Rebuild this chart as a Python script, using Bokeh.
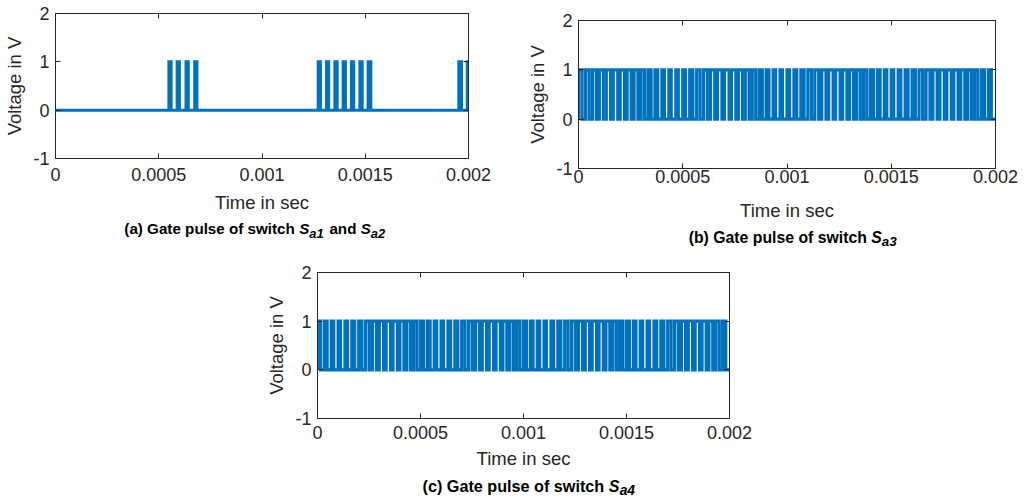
from bokeh.plotting import figure
from bokeh.models import LinearAxis, FixedTicker, Range1d, Spacer
from bokeh.core.properties import value
from bokeh.layouts import column, row
from bokeh.embed import file_html
from bokeh.resources import INLINE

# ---------------- data ----------------
x_ticks = [0, 0.0005, 0.001, 0.0015, 0.002]
x_tick_labels = ["0", "0.0005", "0.001", "0.0015", "0.002"]
y_ticks = [-1, 0, 1, 2]
y_tick_labels = ["-1", "0", "1", "2"]
t_end = 0.002

# (a) gate pulses of Sa1 / Sa2 : switch-on and switch-off instants (s)
sa12_on = [0.000549, 0.000589, 0.000632, 0.000674,
           0.001272, 0.001312, 0.001353, 0.001393, 0.001433, 0.001474, 0.001514,
           0.001953, 0.001994]
sa12_off = [0.000560, 0.000600, 0.000643, 0.000685,
            0.001283, 0.001323, 0.001364, 0.001404, 0.001444, 0.001485, 0.001527,
            0.001966, 0.002000]

# (b) Sa3 and (c) Sa4 : duty ratio of each carrier period over 0..2 ms
sa3_duty = [0.50, 0.52, 0.55, 0.58, 0.62, 0.65, 0.62, 0.58, 0.55, 0.50,
            0.45, 0.40, 0.36, 0.34, 0.36, 0.40, 0.45, 0.50, 0.55, 0.60,
            0.64, 0.66, 0.64, 0.60, 0.55, 0.50, 0.45, 0.40, 0.36, 0.35,
            0.37, 0.41, 0.46, 0.51, 0.56, 0.61, 0.64, 0.65, 0.62, 0.58,
            0.53, 0.48, 0.43, 0.39, 0.36, 0.35, 0.38, 0.42, 0.47, 0.52,
            0.57, 0.61, 0.64, 0.65, 0.62, 0.58, 0.53, 0.48, 0.44, 0.40]
sa4_duty = [0.45, 0.40, 0.37, 0.35, 0.38, 0.42, 0.47, 0.53, 0.58, 0.62,
            0.65, 0.63, 0.59, 0.54, 0.49, 0.44, 0.40, 0.36, 0.35, 0.38,
            0.43, 0.48, 0.53, 0.58, 0.62, 0.64, 0.63, 0.58, 0.53, 0.48,
            0.43, 0.39, 0.36, 0.35, 0.39, 0.44, 0.49, 0.54, 0.59, 0.63,
            0.65, 0.62, 0.57, 0.52, 0.47, 0.42, 0.38, 0.35, 0.36, 0.40,
            0.45, 0.50, 0.55, 0.60, 0.63, 0.64, 0.61, 0.56, 0.51, 0.46]

captions = {
    "a": [("(a) Gate pulse of switch ", "n"), ("S", "i"), ("a1", "s"), (" and ", "n"), ("S", "i"), ("a2", "s")],
    "b": [("(b) Gate pulse of switch ", "n"), ("S", "i"), ("a3", "s")],
    "c": [("(c) Gate pulse of switch ", "n"), ("S", "i"), ("a4", "s")],
}

# ---------------- styling ----------------
BLUE = "#0072BD"
DARK = "#262626"
FONT = "Liberation Sans"
TICK_FS = "18px"
LABEL_FS = "18.5px"
SUB_RATIO = 0.85

# Arial-bold advance widths (per em) for caption layout
W = {" ": .278, "(": .333, ")": .333, "a": .556, "b": .611, "c": .556, "d": .611, "e": .556,
     "f": .333, "G": .778, "h": .611, "i": .278, "l": .278, "n": .611, "o": .611, "p": .611,
     "s": .556, "S": .667, "t": .333, "u": .611, "w": .778}
for dch in "0123456789":
    W[dch] = .556


def text_width(s, fs):
    return sum(W.get(ch, .6) for ch in s) * fs


def pulses_to_xy(on, off):
    xs, ys = [0.0], [0.0]
    for a, b in zip(on, off):
        xs += [a, a, b, b]
        ys += [0, 1, 1, 0]
    if xs[-1] < t_end:
        xs.append(t_end)
        ys.append(0)
    return xs, ys


def duty_to_xy(duty):
    n = len(duty)
    T = t_end / n
    on = [k * T for k in range(n)]
    off = [k * T + d * T for k, d in enumerate(duty)]
    return pulses_to_xy(on, off)


def make_fig(w, h, bl, br, bt, bb, xs, ys, lw, tick_so, label_so):
    p = figure(width=w, height=h, output_backend="svg", toolbar_location=None,
               x_range=Range1d(0, t_end), y_range=Range1d(-1, 2),
               min_border_left=bl, min_border_right=br, min_border_top=bt, min_border_bottom=bb,
               background_fill_color="white", border_fill_color="white")
    p.grid.visible = False
    p.outline_line_color = DARK
    p.outline_line_width = 1
    p.line(xs, ys, line_color=BLUE, line_width=lw, line_join="miter")

    for ax, ticks, labels in ((p.xaxis[0], x_ticks, x_tick_labels), (p.yaxis[0], y_ticks, y_tick_labels)):
        ax.ticker = FixedTicker(ticks=ticks)
        ax.major_label_overrides = dict(zip(ticks, labels))
        ax.major_tick_in = 5
        ax.major_tick_out = 0
        ax.minor_tick_line_color = None
        ax.axis_line_color = DARK
        ax.major_tick_line_color = DARK
        ax.major_label_text_font = FONT
        ax.major_label_text_font_size = TICK_FS
        ax.major_label_text_color = DARK
        ax.axis_label_text_font = FONT
        ax.axis_label_text_font_size = LABEL_FS
        ax.axis_label_text_font_style = "normal"
        ax.axis_label_text_color = DARK
    p.xaxis[0].axis_label = "Time in sec"
    p.yaxis[0].axis_label = "Voltage in V"
    p.xaxis[0].major_label_standoff = tick_so
    p.xaxis[0].axis_label_standoff = label_so
    p.yaxis[0].major_label_standoff = 6
    p.yaxis[0].axis_label_standoff = 5

    for ticks, place in ((x_ticks, "above"), (y_ticks, "right")):
        ax = LinearAxis(ticker=FixedTicker(ticks=ticks), major_label_text_font_size="0px",
                        major_label_text_color=None, major_label_standoff=0,
                        major_tick_in=5, major_tick_out=0,
                        minor_tick_line_color=None, axis_line_color=DARK, major_tick_line_color=DARK)
        p.add_layout(ax, place)
    return p


def make_caption(w, h, bl, br, pieces, center_x, center_y, fs):
    """Caption strip under a panel; shares the panel's side borders, x in px from the frame's left."""
    fw = w - bl - br
    sub_fs = fs * SUB_RATIO
    c = figure(width=w, height=h, output_backend="svg", toolbar_location=None,
               x_range=Range1d(0, fw), y_range=Range1d(h, 0),
               x_axis_type=None, y_axis_type=None, min_border=0,
               min_border_left=bl, min_border_right=br, min_border_top=0, min_border_bottom=0,
               background_fill_color="white", border_fill_color="white", outline_line_color=None)
    c.grid.visible = False
    total = 0
    for s, kind in pieces:
        total += text_width(s, sub_fs if kind == "s" else fs) + (1.5 if kind == "s" else 0)
    x = center_x - total / 2
    base = center_y + fs * 0.36
    for s, kind in pieces:
        size = sub_fs if kind == "s" else fs
        y = base + (fs * 0.28 if kind == "s" else 0)
        lead = len(s) - len(s.lstrip(" "))
        shown = s.strip(" ")
        c.text(x=[x + text_width(" " * lead, size)], y=[y], text=[shown], text_font=value(FONT),
               text_font_size=f"{size:.1f}px",
               text_font_style="bold" if kind == "n" else "bold italic",
               text_color="black", text_baseline="alphabetic", text_align="left")
        x += text_width(s, size) + (1.5 if kind == "s" else 0)
    return c


xa, ya = pulses_to_xy(sa12_on, sa12_off)
xb, yb = duty_to_xy(sa3_duty)
xc, yc = duty_to_xy(sa4_duty)

# panel (a): frame x 55..468, y 13..158 ; caption centre (255, 230)
fa = make_fig(520, 220, 55, 52, 13, 62, xa, ya, 3.0, 9, 8)
ca = make_caption(520, 30, 55, 52, captions["a"], 200, 3, 15.2)
# panel (b): frame x 578..995, y 20..168 ; caption centre (793, 238)
fb = make_fig(504, 228, 58, 29, 20, 60, xb, yb, 3.2, 1, 14)
cb = make_caption(504, 22, 58, 29, captions["b"], 215, 3, 15.8)
# panel (c): frame x 317..729, y 272..418 ; caption centre (529, 486)
fc = make_fig(520, 225, 57, 51, 22, 57, xc, yc, 3.2, 7, 6)
cc = make_caption(520, 29, 57, 51, captions["c"], 212, 5, 16.2)

layout = column(
    row(column(fa, ca, spacing=0), column(fb, cb, spacing=0), spacing=0),
    row(Spacer(width=260, height=254), column(fc, cc, spacing=0), spacing=0),
    spacing=0)

open("out.html", "w").write(file_html(layout, INLINE))
